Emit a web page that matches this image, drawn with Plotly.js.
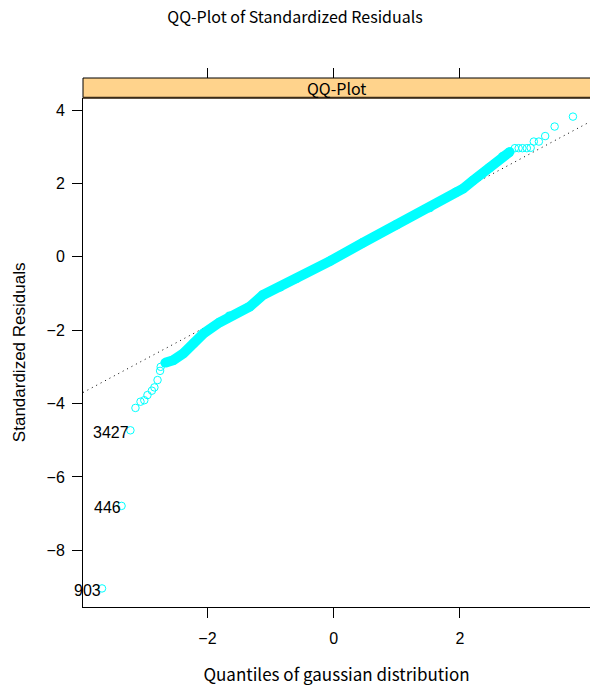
<!DOCTYPE html>
<html>
<head>
<meta charset="utf-8">
<script src="https://cdn.plot.ly/plotly-3.0.1.min.js"></script>
<style>html,body{margin:0;padding:0;background:#fff}#chart{width:590px;height:688px}</style>
</head>
<body>
<div id="chart"></div>
<script>
// Dense central band of the QQ plot (read centre line)
const bandX = [-2.67, -2.54, -2.38, -2.22, -2.06, -1.81, -1.65, -1.33, -1.12, -0.85, -0.59, -0.06, 0.46, 0.99, 1.52, 1.94, 2.05, 2.21, 2.47, 2.68, 2.79];
const bandY = [-2.89, -2.82, -2.63, -2.36, -2.09, -1.79, -1.62, -1.36, -1.04, -0.82, -0.59, -0.12, 0.38, 0.87, 1.34, 1.76, 1.86, 2.08, 2.43, 2.73, 2.86];
// Individual points in the lower tail
const lowTailX = [-3.14, -3.06, -3.00, -2.95, -2.88, -2.84, -2.79, -2.75, -2.74, -2.67];
const lowTailY = [-4.12, -3.95, -3.91, -3.77, -3.65, -3.56, -3.36, -3.11, -3.00, -2.89];
// Individual points in the upper tail
const upTailX = [2.87, 2.93, 2.99, 3.06, 3.12, 3.17, 3.25, 3.35, 3.50, 3.79];
const upTailY = [2.96, 2.96, 2.96, 2.96, 2.97, 3.14, 3.14, 3.29, 3.55, 3.82];
// Labelled outliers
const outX = [-3.22, -3.36, -3.67];
const outY = [-4.73, -6.79, -9.04];
const outLabel = ['3427', '446', '903'];
// Reference (qq) line end points
const refX = [-3.971, 4.06];
const refY = [-3.70, 3.68];

const xTicks = [-2, 0, 2];
const yTicks = [-8, -6, -4, -2, 0, 2, 4];

const CYAN = '#00FFFF';
const jp = '"Noto Sans CJK JP", "Noto Sans", sans-serif';
const ar = '"Liberation Sans", Arial, sans-serif';
const xRange = [-3.971, 4.06];
const yRange = [-9.546, 4.335];
const panelTop = 0.9627;

const traces = [
  // invisible trace keeping the top (mirrored) tick axis alive
  {x: refX, y: refY, xaxis: 'x2', yaxis: 'y', mode: 'lines', opacity: 0,
   line: {color: '#fff', width: 0}, hoverinfo: 'skip', showlegend: false},
  {x: refX, y: refY, mode: 'lines',
   line: {color: '#000', width: 1, dash: '1px,4px'}, hoverinfo: 'skip', showlegend: false},
  {x: bandX, y: bandY, mode: 'lines', line: {color: CYAN, width: 10}, hoverinfo: 'skip', showlegend: false},
  {x: bandX, y: bandY, mode: 'markers', marker: {symbol: 'circle', size: 9.5, color: CYAN}, hoverinfo: 'skip', showlegend: false},
  {x: lowTailX.concat(upTailX).concat(outX), y: lowTailY.concat(upTailY).concat(outY), mode: 'markers',
   marker: {symbol: 'circle-open', size: 7.5, color: CYAN, line: {width: 1, color: CYAN}}, hoverinfo: 'skip', showlegend: false}
];

const annotations = outLabel.map((t, i) => ({
  x: outX[i], y: outY[i], xref: 'x', yref: 'y', text: t, showarrow: false,
  xanchor: 'right', yanchor: 'middle', xshift: 1, yshift: -2,
  font: {family: ar, size: 16, color: '#000'}
}));
annotations.push({
  x: 0.5, y: (panelTop + 1) / 2, xref: 'paper', yref: 'paper', text: 'QQ-Plot', showarrow: false,
  xanchor: 'center', yanchor: 'middle', font: {family: jp, size: 16, color: '#000'}
});

const layout = {
  width: 590, height: 688,
  margin: {l: 83, r: 0, t: 78, b: 81},
  paper_bgcolor: '#fff', plot_bgcolor: '#fff',
  title: {text: 'QQ-Plot of Standardized Residuals', x: 0.5, xref: 'container', xanchor: 'center',
          y: 1 - 17 / 688, yref: 'container', yanchor: 'middle', font: {family: jp, size: 16, color: '#000'}},
  xaxis: {range: xRange, tickvals: xTicks, ticks: 'outside', ticklen: 10, tickcolor: '#000', tickwidth: 1,
          showline: true, linecolor: '#000', linewidth: 1, showgrid: false, zeroline: false,
          tickfont: {family: ar, size: 16, color: '#000'}, ticklabelstandoff: 7,
          title: {text: 'Quantiles of gaussian distribution', font: {family: jp, size: 17, color: '#000'}, standoff: 22}},
  xaxis2: {range: xRange, overlaying: 'x', side: 'top', anchor: 'free', position: 1,
           tickvals: xTicks, ticks: 'outside', ticklen: 10, tickcolor: '#000', showticklabels: false,
           showline: false, showgrid: false, zeroline: false},
  yaxis: {range: yRange, domain: [0, panelTop], tickvals: yTicks, ticks: 'outside', ticklen: 10, tickcolor: '#000',
          showline: true, linecolor: '#000', linewidth: 1, showgrid: false, zeroline: false,
          tickfont: {family: ar, size: 16, color: '#000'}, ticklabelstandoff: 4,
          title: {text: 'Standardized Residuals', font: {family: ar, size: 17, color: '#000'}, standoff: 16}},
  shapes: [
    {type: 'rect', xref: 'paper', yref: 'paper', x0: 0, x1: 1.01, y0: panelTop, y1: 1,
     fillcolor: '#FFD38C', line: {color: '#000', width: 1}, layer: 'above'},
    {type: 'line', xref: 'paper', yref: 'paper', x0: 0, x1: 1.01, y0: panelTop, y1: panelTop,
     line: {color: '#3b2b17', width: 2}, layer: 'above'}
  ],
  annotations: annotations
};

Plotly.newPlot('chart', traces, layout, {displayModeBar: false, staticPlot: true});
</script>
</body>
</html>
